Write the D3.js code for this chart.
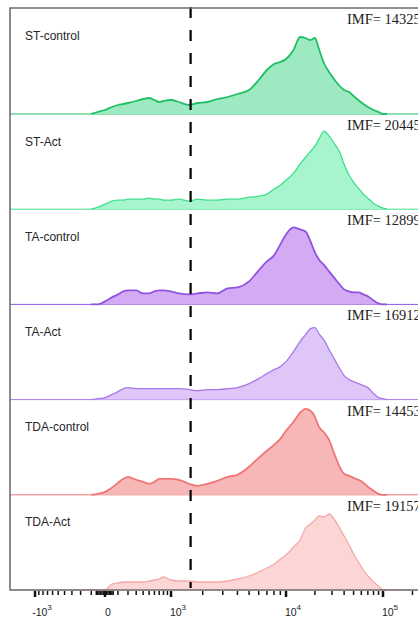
<!DOCTYPE html>
<html>
<head>
<meta charset="utf-8">
<script src="https://cdn.jsdelivr.net/npm/d3@7"></script>
<style>
  body { margin: 0; background: #fff; }
  svg { display: block; }
</style>
</head>
<body>
<div id="chart"></div>
<script>
// samples, top to bottom
const samples = ["ST-control", "ST-Act", "TA-control", "TA-Act", "TDA-control", "TDA-Act"];
const imf = [14325, 20445, 12899, 16912, 14453, 19157];
const gate = 1550;

// channel centres (FITC intensity)
const channels = [-100, -50, 0, 50, 100, 150, 200, 300, 400, 500, 600, 700, 800, 1000, 1200, 1500, 1800,
  2200, 2700, 3300, 4000, 5000, 6000, 7000, 8000, 9000, 10000, 12000, 14000, 16000, 18000, 20000,
  22000, 25000, 28000, 32000, 36000, 40000, 45000, 50000, 56000, 63000, 70000, 80000, 90000, 100000, 110000];

// normalised counts per channel
const stControl  = [0, 2, 4, 7, 9, 10, 11, 13, 15, 16, 14, 12, 13, 14, 12, 9, 11, 12, 15, 17, 20, 24, 34, 44, 50, 52, 55, 64, 77, 76, 74, 76, 65, 50, 42, 34, 28, 24, 22, 18, 14, 10, 7, 4, 2, 0, 0];
const stAct      = [0, 2, 5, 8, 9, 9, 10, 10, 10, 11, 10, 10, 9, 9, 10, 8, 10, 9, 9, 10, 10, 12, 13, 15, 20, 24, 29, 36, 45, 52, 58, 63, 70, 78, 73, 65, 57, 45, 34, 27, 21, 15, 11, 6, 3, 1, 0];
const taControl  = [0, 0, 3, 7, 10, 13, 14, 14, 11, 11, 13, 14, 14, 13, 11, 10, 11, 12, 11, 16, 17, 23, 34, 43, 49, 60, 70, 77, 75, 73, 63, 52, 45, 39, 33, 26, 20, 15, 13, 12, 12, 10, 8, 4, 1, 0, 0];
const taAct      = [0, 1, 2, 5, 8, 11, 12, 11, 11, 11, 11, 11, 11, 11, 11, 10, 9, 10, 10, 11, 12, 16, 21, 26, 30, 33, 38, 48, 58, 65, 71, 72, 66, 59, 50, 40, 31, 24, 20, 18, 16, 14, 12, 6, 2, 1, 0];
const tdaControl = [0, 1, 3, 7, 12, 16, 18, 15, 13, 11, 13, 16, 16, 16, 15, 11, 9, 11, 14, 18, 20, 28, 37, 44, 50, 56, 64, 73, 82, 86, 84, 78, 68, 62, 55, 40, 28, 21, 19, 17, 15, 12, 8, 4, 1, 0, 0];
const tdaAct     = [0, 0, 0, 6, 7, 8, 8, 8, 8, 9, 10, 11, 13, 10, 9, 9, 8, 8, 8, 9, 11, 14, 18, 22, 26, 31, 35, 43, 50, 62, 66, 70, 74, 73, 76, 70, 62, 54, 45, 36, 28, 20, 14, 8, 4, 0, 0];

const counts = [stControl, stAct, taControl, taAct, tdaControl, tdaAct];

const fills   = ["#9de9c2", "#a6f5cc", "#d3abf4", "#dfc6f9", "#f8b7b7", "#fcd5d5"];
const strokes = ["#1fc063", "#3fe08c", "#9252e2", "#a77ae8", "#ef7676", "#f4a9a9"];

// axis ticks
const majorTicks = [-1000, 0, 1000, 10000, 100000];
const majorLabels = [["-10", "3"], ["0", ""], ["10", "3"], ["10", "4"], ["10", "5"]];
const minorTicks = [-900, -800, -700, -600, -500, -400, -300, -200, -100,
  -60, -50, -40, -30, -20, -10, 10, 20, 30, 40, 50, 60,
  100, 200, 300, 400, 500, 600, 700, 800, 900,
  2000, 3000, 4000, 5000, 6000, 7000, 8000, 9000,
  20000, 30000, 40000, 50000, 60000, 70000, 80000, 90000, 200000];

const width = 418, height = 621;
const frame = {left: 10, top: 8, bottom: 590, right: 440};

const svg = d3.select("#chart").append("svg")
  .attr("width", width)
  .attr("height", height)
  .style("background-color", "#fff");

// biexponential-like axis
const x = d3.scaleSymlog().constant(300)
  .domain([-1000, 0, 1000, 10000, 100000])
  .range([35, 105, 171, 286, 383]);

const yBase = d3.scalePoint().domain(samples).range([114, 590]);
const yCount = d3.scaleLinear().domain([0, 100]).range([0, 100]);

samples.forEach((name, i) => {
  const base = yBase(name);
  const top = i === 0 ? frame.top : yBase(samples[i - 1]);
  const rows = channels.map((v, j) => ({v: v, c: counts[i][j]}));

  const area = d3.area()
    .x(d => x(d.v))
    .y0(base)
    .y1(d => base - yCount(d.c))
    .curve(d3.curveMonotoneX);
  const line = d3.line()
    .x(d => x(d.v))
    .y(d => base - yCount(d.c))
    .curve(d3.curveMonotoneX);

  svg.append("line")
    .attr("x1", frame.left).attr("x2", frame.right)
    .attr("y1", base).attr("y2", base)
    .attr("stroke", strokes[i])
    .attr("stroke-width", 1);

  svg.append("path")
    .datum(rows)
    .attr("d", area)
    .attr("fill", fills[i]);

  svg.append("path")
    .datum(rows)
    .attr("d", line)
    .attr("fill", "none")
    .attr("stroke", strokes[i])
    .attr("stroke-width", i % 2 === 0 ? 1.8 : 1.3);

  svg.append("text")
    .attr("x", 25)
    .attr("y", top + 31.5)
    .style("font", "12px 'Liberation Sans', Arial, sans-serif")
    .attr("fill", "#262626")
    .text(name);

  svg.append("text")
    .attr("x", 347)
    .attr("y", top + 16)
    .style("font", "14.5px 'Liberation Serif', 'Times New Roman', serif")
    .attr("fill", "#222")
    .text(`IMF= ${imf[i]}`);
});

// gate line
svg.append("line")
  .attr("x1", x(gate)).attr("x2", x(gate))
  .attr("y1", 0).attr("y2", frame.bottom - 2)
  .attr("stroke", "#000")
  .attr("stroke-width", 2.2)
  .attr("stroke-dasharray", "11,12")
  .attr("stroke-dashoffset", 16);

// frame
svg.append("path")
  .attr("d", `M${frame.right},${frame.top}H${frame.left}V${frame.bottom}H${frame.right}`)
  .attr("fill", "none")
  .attr("stroke", "#6e6e6e")
  .attr("stroke-width", 1.6);

// ticks
svg.selectAll("line.minor").data(minorTicks).enter()
  .append("line")
  .classed("minor", true)
  .attr("x1", d => x(d)).attr("x2", d => x(d))
  .attr("y1", frame.bottom + 1).attr("y2", frame.bottom + 5)
  .attr("stroke", "#111")
  .attr("stroke-width", 1.5);

svg.selectAll("line.major").data(majorTicks).enter()
  .append("line")
  .classed("major", true)
  .attr("x1", d => x(d)).attr("x2", d => x(d))
  .attr("y1", frame.bottom + 1).attr("y2", frame.bottom + 7)
  .attr("stroke", "#111")
  .attr("stroke-width", 2.5);

const labels = svg.selectAll("text.tick").data(majorTicks).enter()
  .append("text")
  .classed("tick", true)
  .attr("x", (d, i) => x(d) + (d === 0 ? 3 : 7))
  .attr("y", 616)
  .attr("text-anchor", "middle")
  .style("font", "10.5px 'Liberation Sans', Arial, sans-serif")
  .attr("fill", "#222");

labels.append("tspan").text((d, i) => majorLabels[i][0]);
labels.append("tspan")
  .attr("dy", -6)
  .style("font-size", "8px")
  .text((d, i) => majorLabels[i][1]);
</script>
</body>
</html>
